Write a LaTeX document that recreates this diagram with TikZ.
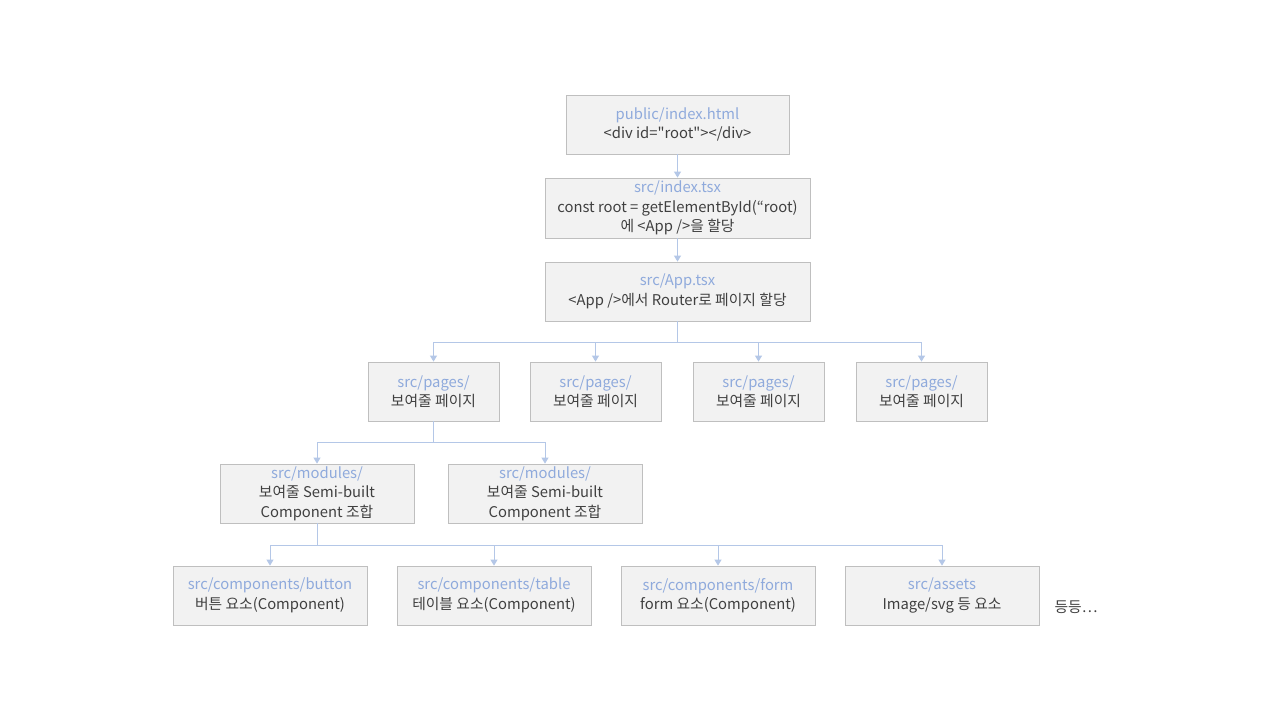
\documentclass[tikz,border=0pt]{standalone}
\usepackage{fontspec}
\setmainfont{Noto Sans CJK KR}[Ligatures=TeXOff]
\usetikzlibrary{arrows.meta}
\definecolor{boxfill}{HTML}{F2F2F2}
\definecolor{boxline}{HTML}{BFBFBF}
\definecolor{ttl}{HTML}{8FAADC}
\definecolor{conn}{HTML}{B4C7E7}
\definecolor{txt}{HTML}{404040}
\newcommand{\ttlt}[1]{\textcolor{ttl}{#1}}
\begin{document}
\begin{tikzpicture}[x=1pt,y=-1pt,
  box/.style={draw=boxline, fill=boxfill, line width=0.8pt, minimum height=59pt, inner sep=0pt, align=center,
    text=txt, font=\fontsize{14.8}{19.5}\selectfont},
  line/.style={draw=conn, line width=1pt},
  arr/.style={draw=conn, line width=1pt, -{Triangle[length=6pt,width=7pt,fill=conn]}}]
\useasboundingbox (0,0) rectangle (1280,720);
\fill[white] (0,0) rectangle (1280,720);
\node[box, minimum width=223pt] (pub) at (677.5,124.5) {\ttlt{public/index.html}\\<div id="root"></div>};
\node[box, minimum width=265pt, minimum height=60pt] (idx) at (677.5,208) {\ttlt{src/index.tsx}\\const root = getElementById(“root)\\에 <App />을 할당};
\node[box, minimum width=265pt] (app) at (677.5,291.5) {\ttlt{src/App.tsx}\\<App />에서 Router로 페이지 할당};
\node[box, minimum width=131pt] (p1) at (433.5,391.5) {\ttlt{src/pages/}\\보여줄 페이지};
\node[box, minimum width=131pt] (p2) at (595.5,391.5) {\ttlt{src/pages/}\\보여줄 페이지};
\node[box, minimum width=131pt] (p3) at (758.5,391.5) {\ttlt{src/pages/}\\보여줄 페이지};
\node[box, minimum width=131pt] (p4) at (921.5,391.5) {\ttlt{src/pages/}\\보여줄 페이지};
\node[box, minimum width=194pt] (m1) at (317,493.5) {\ttlt{src/modules/}\\보여줄 Semi-built\\Component 조합};
\node[box, minimum width=194pt] (m2) at (545,493.5) {\ttlt{src/modules/}\\보여줄 Semi-built\\Component 조합};
\node[box, minimum width=194pt] (c1) at (270,595.5) {\ttlt{src/components/button}\\버튼 요소(Component)};
\node[box, minimum width=194pt] (c2) at (494,595.5) {\ttlt{src/components/table}\\테이블 요소(Component)};
\node[box, minimum width=194pt] (c3) at (718,595.5) {\ttlt{src/components/form}\\form 요소(Component)};
\node[box, minimum width=194pt] (c4) at (942,595.5) {\ttlt{src/assets}\\Image/svg 등 요소};
\node[text=txt, font=\fontsize{14.8}{16}\selectfont, inner sep=0pt] (etc) at (1076,607) {등등…};
\draw[arr] (pub) -- (idx);
\draw[arr] (idx) -- (app);
\coordinate (b1) at (677.5,342);
\draw[line] (app.south) -- (b1);
\foreach \p in {p1,p2,p3,p4} \draw[arr] (b1) -| (\p.north);
\coordinate (b2) at (433.5,442);
\draw[line] (p1.south) -- (b2);
\foreach \p in {m1,m2} \draw[arr] (b2) -| (\p.north);
\coordinate (b3) at (317,545);
\draw[line] (m1.south) -- (b3);
\foreach \p in {c1,c2,c3,c4} \draw[arr] (b3) -| (\p.north);
\end{tikzpicture}
\end{document}
